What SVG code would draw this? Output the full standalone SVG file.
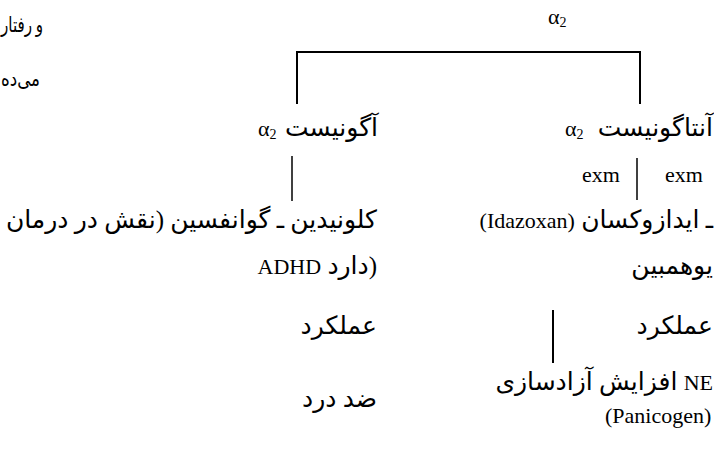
<svg xmlns="http://www.w3.org/2000/svg" width="714" height="452" viewBox="0 0 714 452">
<style>
text{font-family:"Liberation Serif","DejaVu Sans",serif;font-size:22px;fill:#000}
.r{direction:rtl;unicode-bidi:embed;text-anchor:start;font-size:25px}
.s{font-size:21px}
.lat{font-family:"Liberation Serif",serif;font-size:22px}
.sub{font-size:14px}
.ln{stroke:#000;fill:none}
</style>
<rect width="714" height="452" fill="#fff"/>
<g id="root"><text x="548" y="24">α<tspan class="sub" dy="3">2</tspan></text></g>
<g id="side-text">
<text class="r s" x="43" y="32" textLength="42" lengthAdjust="spacingAndGlyphs">و رفتار</text>
<text class="r s" x="40" y="86" textLength="39" lengthAdjust="spacingAndGlyphs">می&#x200C;ده</text>
</g>
<g id="agonist"><text x="258" y="136">α<tspan class="sub" dy="3">2</tspan></text><text class="r" x="378" y="136">آگونیست</text></g>
<g id="antagonist"><text x="565" y="136">α<tspan class="sub" dy="3">2</tspan></text><text class="r" x="713" y="136">آنتاگونیست</text></g>
<g id="exm"><text x="582" y="182">exm</text><text x="665" y="182">exm</text></g>
<g id="agonist-examples">
<text class="r" x="377" y="228">کلونیدین ـ گوانفسین (نقش در درمان</text>
<text class="r" x="377" y="274">(دارد <tspan class="lat">ADHD</tspan></text>
</g>
<g id="antagonist-examples">
<text class="r" x="713" y="228">ـ ایدازوکسان <tspan class="lat">(Idazoxan)</tspan></text>
<text class="r" x="713" y="274">یوهمبین</text>
</g>
<g id="agonist-function"><text class="r" x="377" y="334">عملکرد</text><text class="r" x="377" y="407">ضد درد</text></g>
<g id="antagonist-function"><text class="r" x="713" y="334">عملکرد</text>
<text class="r" x="713" y="390"><tspan class="lat">NE</tspan> افزایش آزادسازی</text>
<text x="605" y="423">(Panicogen)</text></g>
<g id="connectors">
<path class="ln" stroke-width="2" d="M297,104 V52 H640 V104"/>
<path class="ln" stroke-width="1.5" d="M292,156 V201"/>
<path class="ln" stroke-width="1.5" d="M637,158 V200"/>
<path class="ln" stroke-width="2" d="M553,310 V363"/>
</g>
</svg>
